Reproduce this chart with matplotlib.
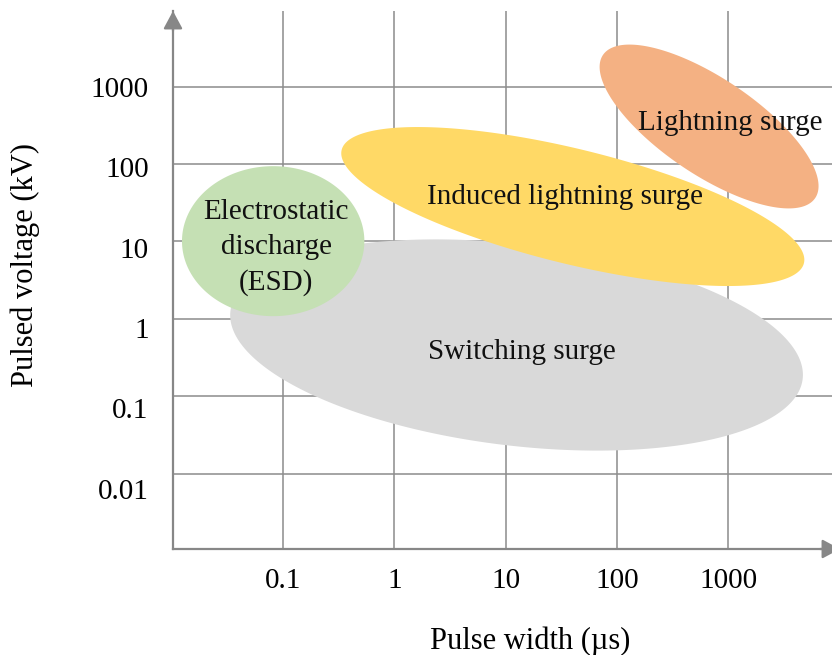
import numpy as np
import matplotlib
matplotlib.use("Agg")
import matplotlib.pyplot as plt
from matplotlib import transforms

# ---------------- data ----------------
x_ticks = [0.1, 1, 10, 100, 1000]
x_tick_labels = ["0.1", "1", "10", "100", "1000"]
y_ticks = [0.01, 0.1, 1, 10, 100, 1000]
y_tick_labels = ["0.01", "0.1", "1", "10", "100", "1000"]

region_names = ["Switching surge", "Induced lightning surge",
                "Electrostatic\ndischarge\n(ESD)", "Lightning surge"]
center_width_us = [12.5, 40.0, 0.0815, 670.0]     # pulse width (µs)
center_voltage_kv = [0.46, 28.3, 10.1, 306.0]     # pulsed voltage (kV)
semi_major_decades = [2.61, 2.205, 0.969, 1.343]
semi_minor_decades = [1.29, 0.719, 0.819, 0.532]
tilt_deg = [-11.3, -20.6, 90.0, -47.9]
label_width_us = [13.9, 33.9, 0.0867, 1047.0]
label_voltage_kv = [0.377, 37.6, 8.3, 340.0]
region_colors = ["#D9D9D9", "#FFD966", "#C5E0B4", "#F4B183"]

x_label = "Pulse width (µs)"
y_label = "Pulsed voltage (kV)"

# ---------------- style ----------------
plt.rcParams["font.family"] = ["Liberation Serif", "DejaVu Serif"]
FS = 21
FS_AXIS = 22
AXIS_COLOR = "#878787"
GRID_COLOR = "#8c8c8c"

fig = plt.figure(figsize=(8.32, 6.55), dpi=100)
W, H = 832, 655
ax = fig.add_axes([173 / W, (H - 549) / H, (832 - 173) / W, (549 - 11) / H])
ax.set_xscale("log")
ax.set_yscale("log")
ax.set_xlim(10 ** -1.9885, 10 ** 3.930)
ax.set_ylim(10 ** -2.973, 10 ** 3.978)

ax.set_xticks(x_ticks)
ax.set_xticklabels(x_tick_labels, fontsize=FS)
ax.set_yticks(y_ticks)
ax.set_yticklabels([""] * len(y_ticks))
ax.minorticks_off()
ax.tick_params(axis="both", length=0)
ax.tick_params(axis="x", pad=14, colors="black")
ax.set_axisbelow(True)
ax.grid(True, which="major", color=GRID_COLOR, lw=1.1)

for s in ["top", "right"]:
    ax.spines[s].set_visible(False)
for s in ["left", "bottom"]:
    ax.spines[s].set_color(AXIS_COLOR)
    ax.spines[s].set_linewidth(1.6)
    ax.spines[s].set_zorder(5)

# y tick labels (drawn as text, each slightly shifted as in the original)
blend = transforms.blended_transform_factory(ax.transAxes, ax.transData)
for val, lab in zip(y_ticks, y_tick_labels):
    k = np.log10(val)
    off_px = 0.8 + 2.9 * (3 - k) + 9.6
    tr = blend + transforms.ScaledTranslation(0, -off_px / 100, fig.dpi_scale_trans)
    ax.text(-0.037, val, lab, transform=tr, ha="right", va="baseline",
            fontsize=FS, clip_on=False)

# ellipses
t = np.linspace(0, 2 * np.pi, 400)
for i in range(len(region_names)):
    phi = np.deg2rad(tilt_deg[i])
    a, b = semi_major_decades[i], semi_minor_decades[i]
    u = np.log10(center_width_us[i]) + a * np.cos(t) * np.cos(phi) - b * np.sin(t) * np.sin(phi)
    v = np.log10(center_voltage_kv[i]) + a * np.cos(t) * np.sin(phi) + b * np.sin(t) * np.cos(phi)
    ax.fill(10 ** u, 10 ** v, color=region_colors[i], lw=0, zorder=2 + i)
    ax.text(label_width_us[i], label_voltage_kv[i], region_names[i],
            ha="center", va="center", fontsize=FS, zorder=10,
            linespacing=1.45, color="#111111")

# axis arrows
ax.annotate("", xy=(0, 1), xycoords="axes fraction",
            xytext=(0, -20), textcoords="offset pixels",
            arrowprops=dict(arrowstyle="-|>,head_length=0.54,head_width=0.29",
                            color=AXIS_COLOR, lw=1.6, shrinkA=0, shrinkB=0,
                            mutation_scale=20),
            annotation_clip=False, zorder=6)
ax.annotate("", xy=(1 + 8 / 659, 0), xycoords="axes fraction",
            xytext=(-20, 0), textcoords="offset pixels",
            arrowprops=dict(arrowstyle="-|>,head_length=0.54,head_width=0.29",
                            color=AXIS_COLOR, lw=1.6, shrinkA=0, shrinkB=0,
                            mutation_scale=20),
            annotation_clip=False, zorder=6)

# axis labels
ax.set_xlabel(x_label, fontsize=FS_AXIS)
ax.xaxis.set_label_coords((530 - 173) / 659, (549 - 641) / 538)
ax.xaxis.label.set_va("center")
ax.set_ylabel(y_label, fontsize=FS_AXIS)
ax.yaxis.set_label_coords((25 - 173) / 659, (549 - 265) / 538)
ax.yaxis.label.set_va("center")

fig.savefig("out.png", dpi=100)
